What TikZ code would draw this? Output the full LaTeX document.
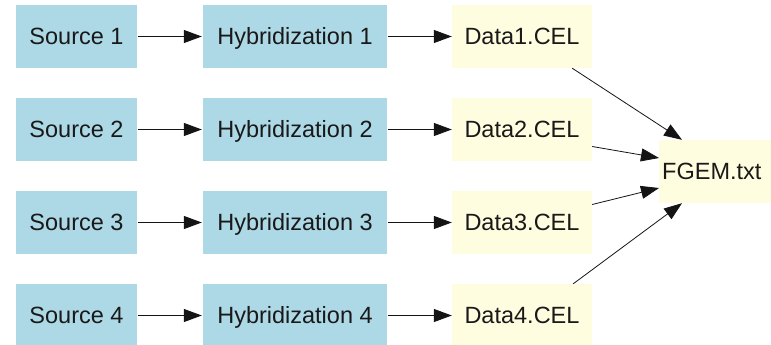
\documentclass[tikz,border=0pt]{standalone}
\usepackage{fontspec}
\setmainfont{Liberation Sans}
\usetikzlibrary{arrows.meta}
\definecolor{boxblue}{RGB}{173,216,230}
\definecolor{boxyellow}{RGB}{255,253,224}
\definecolor{linecol}{RGB}{20,20,20}
\begin{document}
\begin{tikzpicture}[x=1pt,y=-1pt,
  base/.style={inner sep=0pt, minimum height=63pt, text height=16.5pt, text depth=0pt, font=\fontsize{23.5}{26}\selectfont, text=black!90},
  srcbox/.style={base, fill=boxblue, minimum width=121pt},
  hybbox/.style={base, fill=boxblue, minimum width=184pt},
  databox/.style={base, fill=boxyellow, minimum width=140pt},
  conn/.style={draw=linecol, line width=1.1pt, -{Triangle[length=18pt,width=13pt]}},
  thin/.style={draw=linecol, line width=0.8pt, -{Triangle[length=18pt,width=13pt]}}
]
\useasboundingbox (0,0) rectangle (771,345);
\fill[white] (0,0) rectangle (771,345);

\foreach \i/\y in {1/36.5,2/129.5,3/222.5,4/315.5}{
  \node[srcbox] (s\i) at (76.5,\y) {Source \i};
  \node[hybbox] (h\i) at (295,\y) {Hybridization \i};
  \node[databox] (d\i) at (522,\y) {Data\i.CEL};
  \draw[conn] ([xshift=1pt]s\i.east) -- ([xshift=-1pt]h\i.west);
  \draw[conn] ([xshift=1pt]h\i.east) -- (d\i.west);
}

\node[base, fill=boxyellow, anchor=west, text width=120pt, align=left, inner xsep=3pt] (fgem) at (659,171.5) {FGEM.txt};

\draw[thin] ([xshift=-20pt]d1.south east) -- ([xshift=23pt]fgem.north west);
\draw[thin] ([yshift=-17pt]d2.east) -- ([yshift=13.5pt]fgem.west);
\draw[thin] ([yshift=18pt]d3.east) -- ([yshift=-16.5pt]fgem.west);
\draw[thin] ([xshift=-19pt]d4.north east) -- ([xshift=23pt]fgem.south west);
\end{tikzpicture}
\end{document}
